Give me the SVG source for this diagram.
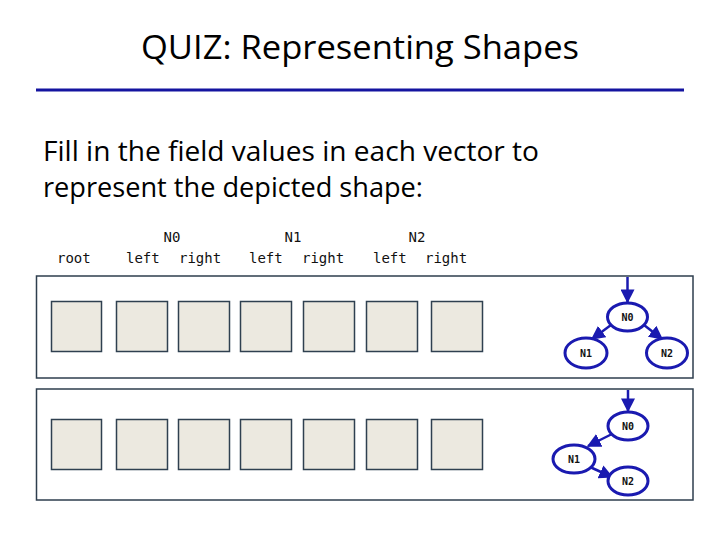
<svg xmlns="http://www.w3.org/2000/svg" width="720" height="540" viewBox="0 0 720 540">
<defs>
<style>
.title{font-family:"Open Sans","Liberation Sans",sans-serif;font-size:32px;fill:#000}
.body{font-family:"Open Sans","Liberation Sans",sans-serif;font-size:27px;fill:#000}
.hdr{font-family:"DejaVu Sans Mono","Liberation Mono",monospace;font-size:14px;fill:#111}
.nl{font-family:"DejaVu Sans Mono","Liberation Mono",monospace;font-size:10px;font-weight:bold;fill:#111;text-anchor:middle}
.frame{fill:#fff;stroke:#2e3e4e;stroke-width:1.5}
.cell{fill:#ece9e0;stroke:#2f4050;stroke-width:1.5}
.node ellipse{fill:#fff;stroke:#1a1ab0;stroke-width:3}
.edge{stroke:#1a1ab0;stroke-width:2.5;fill:none;marker-end:url(#ah)}
</style>
<marker id="ah" viewBox="0 0 10 10" refX="9" refY="5" markerWidth="14" markerHeight="14" markerUnits="userSpaceOnUse" orient="auto">
<path d="M0,0 L10,5 L0,10 z" fill="#1a1ab0"/>
</marker>
</defs>
<rect width="720" height="540" fill="#fff"/>
<text class="title" x="360" y="59" text-anchor="middle" textLength="438" lengthAdjust="spacingAndGlyphs">QUIZ: Representing Shapes</text>
<line x1="36" y1="90" x2="684" y2="90" stroke="#1414a0" stroke-width="3"/>
<text class="body" x="43" y="161" textLength="496" lengthAdjust="spacingAndGlyphs">Fill in the field values in each vector to</text>
<text class="body" x="43" y="197" textLength="380" lengthAdjust="spacingAndGlyphs">represent the depicted shape:</text>
<g id="headers">
<text class="hdr" x="172" y="242" text-anchor="middle">N0</text>
<text class="hdr" x="293" y="242" text-anchor="middle">N1</text>
<text class="hdr" x="417" y="242" text-anchor="middle">N2</text>
<text class="hdr" x="57" y="263">root</text>
<text class="hdr" x="126" y="263">left</text>
<text class="hdr" x="179" y="263">right</text>
<text class="hdr" x="249" y="263">left</text>
<text class="hdr" x="302" y="263">right</text>
<text class="hdr" x="373" y="263">left</text>
<text class="hdr" x="425" y="263">right</text>
</g>
<g id="vector1">
<rect class="frame" x="36.5" y="276" width="656.5" height="102"/>
<rect class="cell" x="51.5" y="301.5" width="50" height="50"/>
<rect class="cell" x="116.5" y="301.5" width="51" height="50"/>
<rect class="cell" x="178.5" y="301.5" width="51" height="50"/>
<rect class="cell" x="240.5" y="301.5" width="51" height="50"/>
<rect class="cell" x="303.5" y="301.5" width="51" height="50"/>
<rect class="cell" x="366.5" y="301.5" width="51" height="50"/>
<rect class="cell" x="431.5" y="301.5" width="51" height="50"/>
</g>
<g id="vector2">
<rect class="frame" x="36.5" y="389" width="656.5" height="111"/>
<rect class="cell" x="51.5" y="419.5" width="50" height="50"/>
<rect class="cell" x="116.5" y="419.5" width="51" height="50"/>
<rect class="cell" x="178.5" y="419.5" width="51" height="50"/>
<rect class="cell" x="240.5" y="419.5" width="51" height="50"/>
<rect class="cell" x="303.5" y="419.5" width="51" height="50"/>
<rect class="cell" x="366.5" y="419.5" width="51" height="50"/>
<rect class="cell" x="431.5" y="419.5" width="51" height="50"/>
</g>
<g id="connectors">
<line class="edge" x1="627.5" y1="277" x2="627.5" y2="302"/>
<line class="edge" x1="611" y1="325" x2="592" y2="339"/>
<line class="edge" x1="644" y1="325" x2="662" y2="339"/>
<line class="edge" x1="628" y1="390" x2="628" y2="411"/>
<line class="edge" x1="612" y1="434" x2="588" y2="446"/>
<line class="edge" x1="590" y1="467" x2="612" y2="477"/>
</g>
<g id="t1-N0" class="node"><ellipse cx="627.5" cy="317" rx="20" ry="14"/><text class="nl" x="627.5" y="321">N0</text></g>
<g id="t1-N1" class="node"><ellipse cx="586" cy="353" rx="21" ry="15"/><text class="nl" x="586" y="357">N1</text></g>
<g id="t1-N2" class="node"><ellipse cx="667" cy="353" rx="20.5" ry="15"/><text class="nl" x="667" y="357">N2</text></g>
<g id="t2-N0" class="node"><ellipse cx="628" cy="426" rx="20" ry="14"/><text class="nl" x="628" y="430">N0</text></g>
<g id="t2-N1" class="node"><ellipse cx="574" cy="459" rx="21" ry="14"/><text class="nl" x="574" y="463">N1</text></g>
<g id="t2-N2" class="node"><ellipse cx="628" cy="481" rx="20" ry="14"/><text class="nl" x="628" y="485">N2</text></g>
</svg>
